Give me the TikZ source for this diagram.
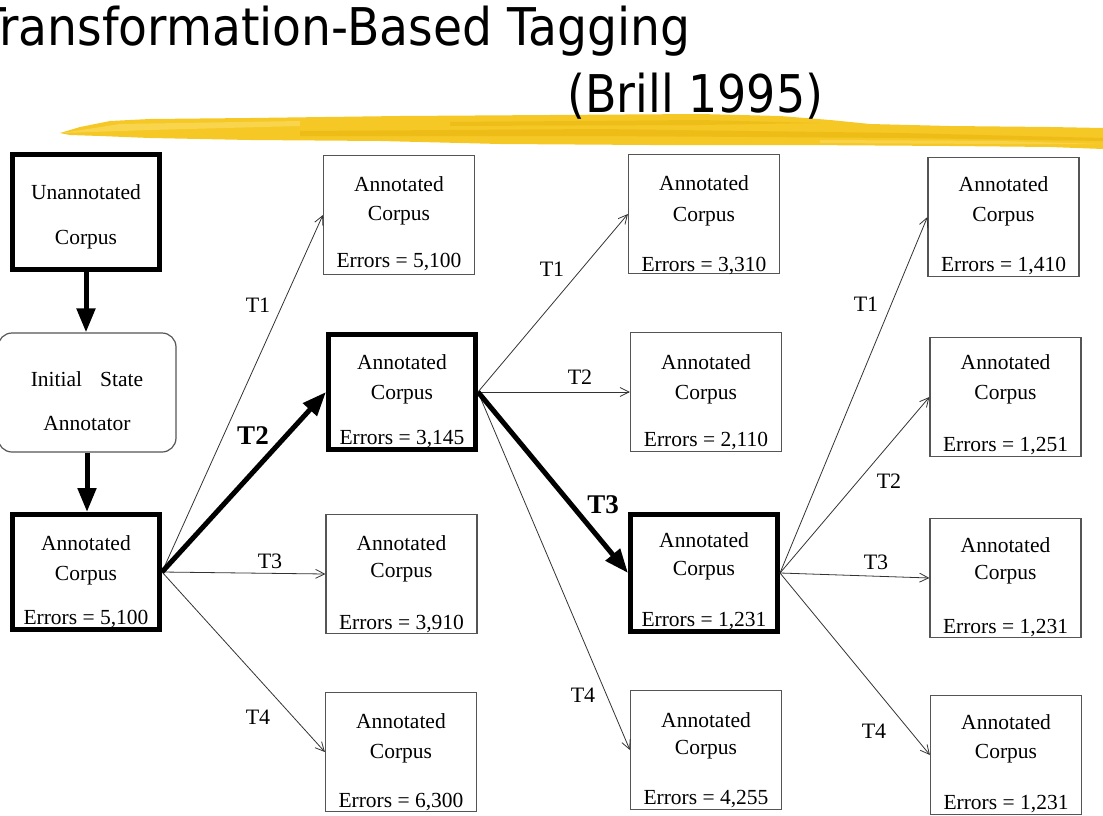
\documentclass[tikz,border=0pt]{standalone}
\usepackage{fontspec}
\usepackage{graphicx}
\setmainfont{Liberation Serif}
\newfontfamily\titlefont{DejaVu Sans}
\usetikzlibrary{arrows.meta}
\definecolor{brushA}{HTML}{F5C826}
\definecolor{brushB}{HTML}{E9B50C}
\definecolor{brushC}{HTML}{FADB5E}
\definecolor{boxgray}{HTML}{555555}
\definecolor{arrowgray}{HTML}{333333}
\newcommand\acbox[8]{%
  \node[#4] (#1) at (#2,#3) {};
  \node[txt] (#1a) at (#2,#5) {Annotated};
  \node[txt] (#1b) at (#2,#6) {Corpus};
  \node[txt] (#1c) at (#2,#7) {Errors = #8};
}
\begin{document}
\begin{tikzpicture}[x=1pt,y=-1pt,
  thinbox/.style={draw=boxgray, line width=1.2pt, minimum width=151pt, minimum height=119pt, inner sep=0pt},
  thickbox/.style={draw=black, line width=5pt, minimum width=147pt, minimum height=115pt, inner sep=0pt},
  roundbox/.style={draw=boxgray, line width=1.2pt, rounded corners=14pt, minimum width=178pt, minimum height=119pt, inner sep=0pt},
  txt/.style={font=\fontsize{21.5}{26}\selectfont, inner sep=0pt, anchor=base},
  lbl/.style={font=\fontsize{22}{26}\selectfont, inner sep=0pt},
  blbl/.style={font=\fontsize{27}{30}\selectfont\bfseries, inner sep=0pt},
  thinarrow/.style={draw=arrowgray, line width=0.8pt, -{Straight Barb[length=9pt,width=9pt]}},
  thickarrow/.style={draw=black, line width=5pt, -{Triangle[length=24pt,width=18pt]}}
]
\useasboundingbox (0,0) rectangle (1103,816);

% brush stroke
\fill[brushA] (60,133) -- (80,127) -- (110,121) -- (150,119) -- (250,118) -- (400,116) -- (550,115) -- (700,114) -- (780,116) -- (830,120) -- (870,124) -- (950,126) -- (1050,127) -- (1103,128)
  -- (1103,149) -- (1050,147) -- (950,146) -- (800,145) -- (650,145) -- (500,144) -- (380,141) -- (250,140) -- (150,138) -- (100,136) -- (70,135) -- cycle;
\fill[brushC, opacity=0.7] (62,133) -- (120,124) -- (300,121) -- (300,126) -- (150,130) -- cycle;
\fill[brushB, opacity=0.6] (300,131) -- (600,129) -- (900,133) -- (1103,138) -- (1103,141) -- (900,138) -- (600,136) -- (300,136) -- cycle;
\fill[brushB, opacity=0.5] (450,122) -- (700,120) -- (820,123) -- (700,125) -- (450,126) -- cycle;
\fill[brushC, opacity=0.6] (820,140) -- (1000,141) -- (1103,144) -- (1000,144) -- (820,143) -- cycle;

% title
\node[anchor=base west, inner sep=0pt] (title) at (-23,46) {\resizebox{713pt}{\height}{\titlefont\fontsize{52}{60}\selectfont Transformation-Based Tagging}};
\node[anchor=base west, inner sep=0pt] (brill) at (567,112) {\resizebox{256pt}{\height}{\titlefont\fontsize{52}{60}\selectfont (Brill 1995)}};

% left column
\node[thickbox] (U) at (86,212) {};
\node[txt] (Ua) at (86,199) {Unannotated};
\node[txt] (Ub) at (86,244) {Corpus};
\node[roundbox] (ISA) at (87,392.5) {};
\node[txt] (ISAa) at (87,386) {Initial\hspace{18pt}State};
\node[txt] (ISAb) at (87,430) {Annotator};
\acbox{L}{86}{572}{thickbox}{550}{580}{624}{5,100}

% column 2
\acbox{A1}{399}{215}{thinbox}{191}{220}{267}{5,100}
\acbox{A2}{402}{392}{thickbox}{369}{399}{444}{3,145}
\acbox{A3}{401.5}{574}{thinbox}{550}{577}{629}{3,910}
\acbox{A4}{401}{752}{thinbox}{728}{758}{807}{6,300}

% column 3
\acbox{B1}{704}{214}{thinbox}{190}{221}{271}{3,310}
\acbox{B2}{706}{392}{thinbox}{369}{399}{446}{2,110}
\node[thickbox, minimum height=117pt] (B3) at (704,573) {};
\node[txt] (B3a) at (704,547) {Annotated};
\node[txt] (B3b) at (704,575) {Corpus};
\node[txt] (B3c) at (704,626) {Errors = 1,231};
\acbox{B4}{706}{750}{thinbox}{727}{754}{804}{4,255}

% column 4
\acbox{C1}{1003.5}{217}{thinbox}{191}{221}{271}{1,410}
\acbox{C2}{1005.5}{397}{thinbox}{369}{399}{451}{1,251}
\acbox{C3}{1005.5}{578}{thinbox}{552}{579}{633}{1,231}
\acbox{C4}{1006}{755}{thinbox}{729}{758}{809}{1,231}

% thin connectors
\draw[thinarrow] (L.east) -- (A1.west);
\draw[thinarrow] (L.east) -- (A3.west);
\draw[thinarrow] (L.east) -- (A4.west);
\draw[thinarrow] (A2.east) -- (B1.west);
\draw[thinarrow] (A2.east) -- (B2.west);
\draw[thinarrow] (A2.east) -- (B4.west);
\draw[thinarrow] (B3.east) -- (C1.west);
\draw[thinarrow] (B3.east) -- (C2.west);
\draw[thinarrow] (B3.east) -- (C3.west);
\draw[thinarrow] (B3.east) -- (C4.west);

% thick connectors
\draw[thickarrow] (U.south) -- (U.south |- ISA.north);
\draw[thickarrow] (ISA.south) -- (ISA.south |- L.north);
\draw[thickarrow] (L.east) -- (A2.west);
\draw[thickarrow] (A2.east) -- (B3.west);

% labels
\node[lbl] (l1) at (258,305) {T1};
\node[blbl] (l2) at (253,436) {T2};
\node[lbl] (l3) at (270,561) {T3};
\node[lbl] (l4) at (258,717) {T4};
\node[lbl] (m1) at (552,269) {T1};
\node[lbl] (m2) at (580,377) {T2};
\node[blbl] (m3) at (603,505) {T3};
\node[lbl] (m4) at (583,695) {T4};
\node[lbl] (r1) at (866,304) {T1};
\node[lbl] (r2) at (889,481) {T2};
\node[lbl] (r3) at (876,562) {T3};
\node[lbl] (r4) at (874,731) {T4};
\end{tikzpicture}
\end{document}
